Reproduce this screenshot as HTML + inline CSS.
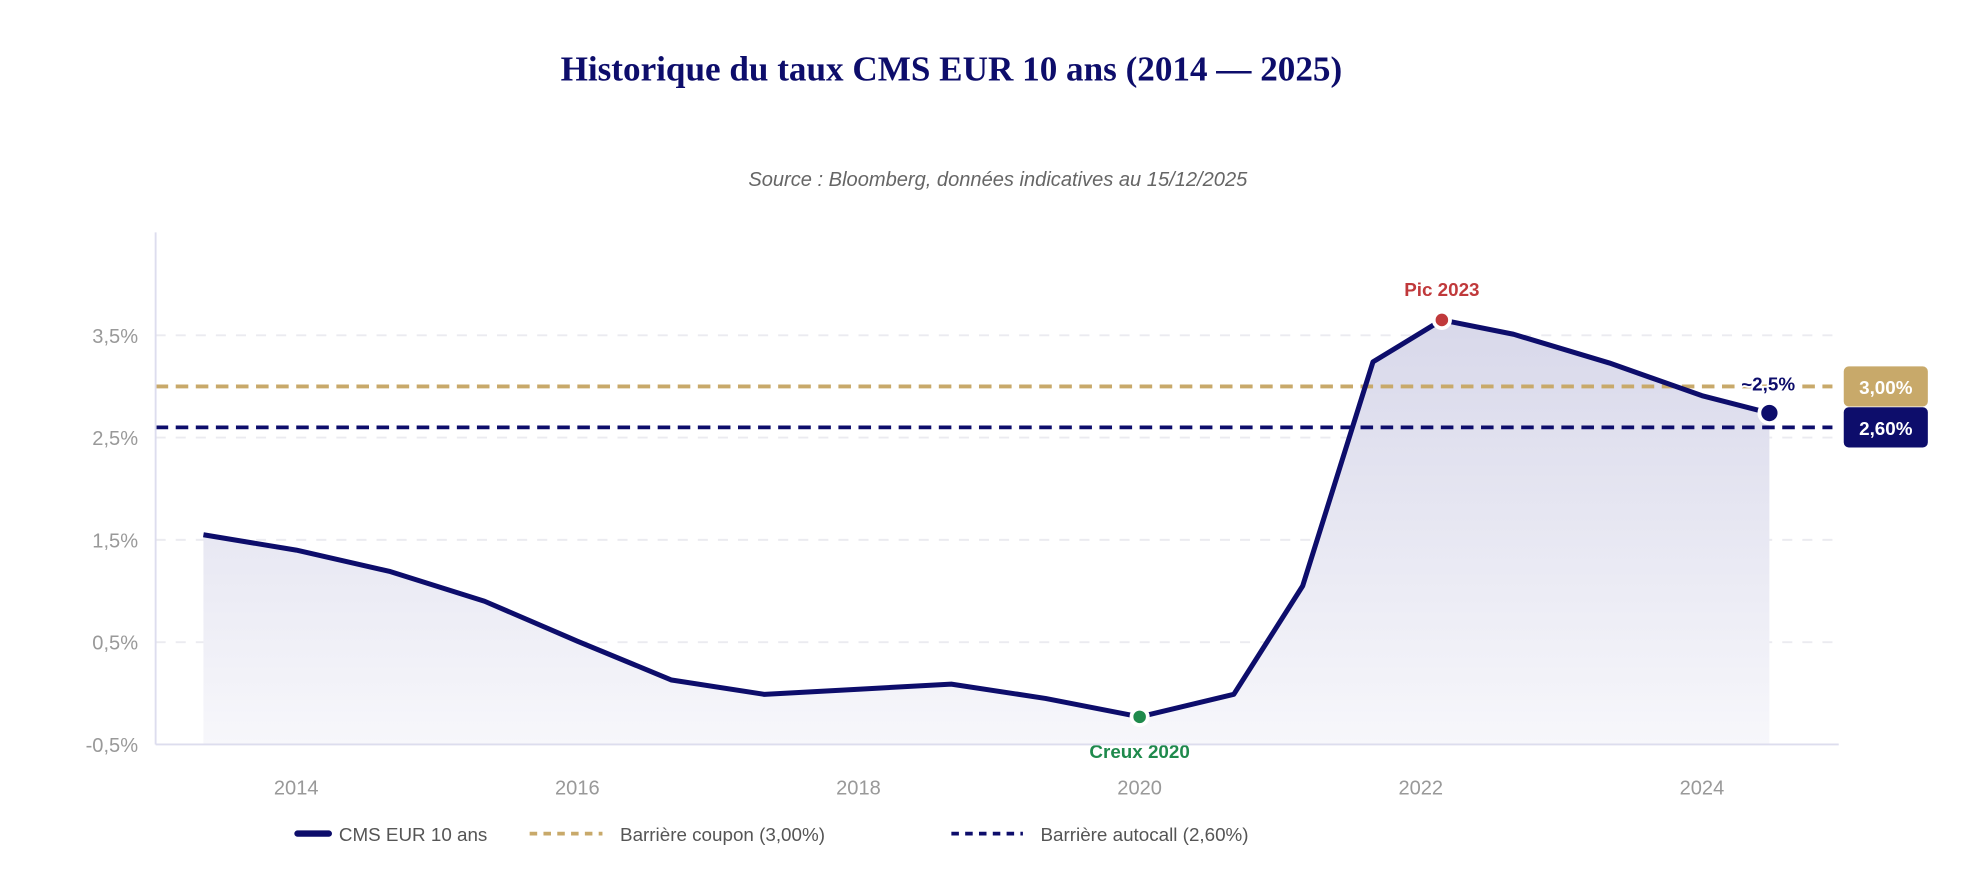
<!DOCTYPE html>
<html><head><meta charset="utf-8"><style>
html,body{margin:0;padding:0;background:#fff;}
svg{display:block;}
text{font-family:"Liberation Sans",sans-serif;}
</style></head><body>
<svg id="chart" width="1968" height="894" viewBox="0 0 1568 712" xmlns="http://www.w3.org/2000/svg">
<defs><linearGradient id="ag" x1="0" y1="0" x2="0" y2="1"><stop offset="0" stop-color="#d8d8ea"/><stop offset="1" stop-color="#f7f7fb"/></linearGradient></defs>
<text x="758" y="64" text-anchor="middle" style="font-family:'Liberation Serif',serif;font-size:28px;font-weight:bold" fill="#0d0d6b">Historique du taux CMS EUR 10 ans (2014 — 2025)</text>
<text x="795" y="148" text-anchor="middle" font-size="16" font-style="italic" fill="#666">Source : Bloomberg, données indicatives au 15/12/2025</text>
<g id="grid"></g>
<g id="marks"></g>
<line x1="124" y1="185" x2="124" y2="593" stroke="#dde" stroke-width="1.5"/>
<line x1="124" y1="593" x2="1465" y2="593" stroke="#dde" stroke-width="1.5"/>
<g>
<line x1="237" y1="664" x2="262" y2="664" stroke="#0d0d6b" stroke-width="5" stroke-linecap="round"/>
<text x="270" y="670" font-size="15" fill="#555">CMS EUR 10 ans</text>
<line x1="422" y1="664" x2="480" y2="664" stroke="#c8a96a" stroke-width="3" stroke-dasharray="6,5"/>
<text x="494" y="670" font-size="15" fill="#555">Barrière coupon (3,00%)</text>
<line x1="758" y1="664" x2="815" y2="664" stroke="#0d0d6b" stroke-width="3" stroke-dasharray="6,5"/>
<text x="829" y="670" font-size="15" fill="#555">Barrière autocall (2,60%)</text>
</g>
</svg>
<script>
const years=[2013.34,2014,2014.67,2015.34,2016,2016.67,2017.33,2018,2018.66,2019.33,2020,2020.67,2021.16,2021.66,2022.15,2022.66,2023.34,2024,2024.48];
const rates=[1.55,1.40,1.19,0.90,0.51,0.13,-0.01,0.04,0.09,-0.05,-0.23,-0.01,1.05,3.24,3.65,3.51,3.23,2.91,2.74];
const yTicks=[3.5,2.5,1.5,0.5,-0.5];
const yTickLabels=["3,5%","2,5%","1,5%","0,5%","-0,5%"];
const xTicks=[2014,2016,2018,2020,2022,2024];
const couponBarrier=3.0, autocallBarrier=2.6;
const NS="http://www.w3.org/2000/svg";
const X=v=>236+(v-2014)*112;
const Y=v=>267+(3.5-v)*81.5;
function mk(tag,attrs,parent,txt){const e=document.createElementNS(NS,tag);for(const k in attrs)e.setAttribute(k,attrs[k]);if(txt!=null)e.textContent=txt;parent.appendChild(e);return e;}
const grid=document.getElementById('grid'), marks=document.getElementById('marks');
yTicks.forEach((t,i)=>{
 if(t>-0.5){const l=mk('line',{x1:124,x2:1460,y1:Y(t),y2:Y(t),stroke:'#ebebf0','stroke-width':1.5,'stroke-dasharray':'8,8'},grid);
 
 }
 const tx=mk('text',{x:110,y:Y(t)+6,'text-anchor':'end','font-size':16,fill:'#999'},grid,yTickLabels[i]);
 
 
});
xTicks.forEach(t=>{
 const tx=mk('text',{x:X(t),y:633,'text-anchor':'middle','font-size':16,fill:'#999'},grid,String(t));
 
 
});
const pts=years.map((y,i)=>[X(y),Y(rates[i])]);
const base=Y(-0.5);
const area=mk('path',{d:'M'+pts[0][0]+','+base+' L'+pts.map(p=>p.join(',')).join(' L')+' L'+pts[pts.length-1][0]+','+base+' Z',fill:'url(#ag)'},marks);


const cb=mk('line',{x1:124,x2:1460,y1:Y(couponBarrier),y2:Y(couponBarrier),stroke:'#c8a96a','stroke-width':3,'stroke-dasharray':'10,6'},marks);


const ab=mk('line',{x1:124,x2:1460,y1:Y(autocallBarrier),y2:Y(autocallBarrier),stroke:'#0d0d6b','stroke-width':3,'stroke-dasharray':'10,6'},marks);


const line=mk('polyline',{points:pts.map(p=>p.join(',')).join(' '),fill:'none',stroke:'#0d0d6b','stroke-width':4,'stroke-linejoin':'round'},marks);


// peak, trough, last
let pk=0,tr=0;rates.forEach((r,i)=>{if(r>rates[pk])pk=i;if(r<rates[tr])tr=i;});
const last=rates.length-1;
const pd=mk('circle',{cx:pts[pk][0],cy:pts[pk][1],r:6.5,fill:'#c0393b',stroke:'#fff','stroke-width':3},marks);


const pl=mk('text',{x:pts[pk][0],y:pts[pk][1]-19,'text-anchor':'middle','font-size':15,fill:'#c0393b','font-weight':'bold'},marks,'Pic 2023');


const td=mk('circle',{cx:pts[tr][0],cy:pts[tr][1],r:6.5,fill:'#1f8a4c',stroke:'#fff','stroke-width':3},marks);


const tl=mk('text',{x:pts[tr][0],y:pts[tr][1]+33,'text-anchor':'middle','font-size':15,fill:'#1f8a4c','font-weight':'bold'},marks,'Creux 2020');


const ld=mk('circle',{cx:pts[last][0],cy:pts[last][1],r:8,fill:'#0d0d6b',stroke:'#fff','stroke-width':3},marks);


const ll=mk('text',{x:pts[last][0]-1,y:pts[last][1]-18,'text-anchor':'middle','font-size':15,fill:'#0d0d6b','font-weight':'bold',stroke:'#fff','stroke-width':3,'paint-order':'stroke'},marks,'~2,5%');


function badge(v,fill,txt,name){
 const g=mk('g',{},marks);
 
 
 mk('rect',{x:1469,y:Y(v)-16,width:67,height:32,rx:4,fill:fill},g);
 mk('text',{x:1502.5,y:Y(v)+6,'text-anchor':'middle','font-size':15,'font-weight':'bold',fill:'#fff'},g,txt);
}
badge(couponBarrier,'#c8a96a','3,00%','coupon-badge');
badge(autocallBarrier,'#0d0d6b','2,60%','autocall-badge');
</script>
</body></html>
